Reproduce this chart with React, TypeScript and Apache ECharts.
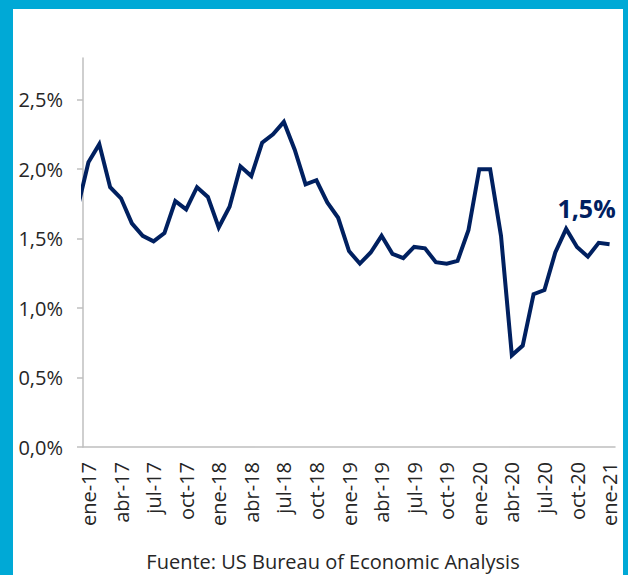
import React, { useEffect, useRef } from "react";
import * as echarts from "echarts";

// Months: first entry (dic-16) lies before the axis start and is clipped
const months = [
  "dic-16",
  "ene-17", "feb-17", "mar-17", "abr-17", "may-17", "jun-17", "jul-17", "ago-17", "sep-17", "oct-17", "nov-17", "dic-17",
  "ene-18", "feb-18", "mar-18", "abr-18", "may-18", "jun-18", "jul-18", "ago-18", "sep-18", "oct-18", "nov-18", "dic-18",
  "ene-19", "feb-19", "mar-19", "abr-19", "may-19", "jun-19", "jul-19", "ago-19", "sep-19", "oct-19", "nov-19", "dic-19",
  "ene-20", "feb-20", "mar-20", "abr-20", "may-20", "jun-20", "jul-20", "ago-20", "sep-20", "oct-20", "nov-20", "dic-20",
  "ene-21",
];

// Inflation (%)
const values = [
  1.72,
  2.05, 2.18, 1.87, 1.79, 1.61, 1.52, 1.48, 1.54, 1.77, 1.71, 1.87, 1.8,
  1.58, 1.73, 2.02, 1.95, 2.19, 2.25, 2.34, 2.14, 1.89, 1.92, 1.76, 1.65,
  1.41, 1.32, 1.4, 1.52, 1.39, 1.36, 1.44, 1.43, 1.33, 1.32, 1.34, 1.56,
  2.0, 2.0, 1.52, 0.66, 0.73, 1.1, 1.13, 1.4, 1.57, 1.44, 1.37, 1.47,
  1.46,
];

const yTicks = [0, 0.5, 1.0, 1.5, 2.0, 2.5];
const sourceText = "Fuente: US Bureau of Economic Analysis";

const FONT = "'Open Sans', 'Noto Sans', sans-serif";
const fmt = (v: number) => v.toFixed(1).replace(".", ",") + "%";

export default function App() {
  const ref = useRef<HTMLDivElement>(null);
  useEffect(() => {
    document.body.style.margin = "0";
    if (!ref.current) return;
    const chart = echarts.init(ref.current, null, { renderer: "svg" });
    const cats = months.slice(1);
    const seriesData = values.map((v, i) => [i - 1, v]);
    chart.setOption({
      animation: false,
      backgroundColor: "#ffffff",
      grid: {
        left: 83,
        right: 13,
        top: 58,
        bottom: 128,
        containLabel: false,
        outerBoundsMode: "none",
      },
      xAxis: [
        {
          type: "category",
          data: cats,
          boundaryGap: true,
          axisLine: { onZero: false, lineStyle: { color: "#bfbfbf", width: 1.5 } },
          axisTick: { interval: 2, length: 5, lineStyle: { color: "#bfbfbf", width: 1.5 } },
          axisLabel: {
            interval: 2,
            rotate: 90,
            margin: 15,
            color: "#262626",
            fontSize: 20,
            fontFamily: FONT,
          },
          splitLine: { show: false },
        },
        {
          type: "value",
          min: -0.5,
          max: cats.length - 0.5,
          show: false,
        },
      ],
      yAxis: {
        type: "value",
        min: 0,
        max: 2.8,
        interval: 0.5,
        axisLine: { show: true, onZero: false, lineStyle: { color: "#bfbfbf", width: 1.5 } },
        axisTick: {
          show: true,
          length: 6,
          customValues: yTicks,
          lineStyle: { color: "#bfbfbf", width: 1.5 },
        },
        axisLabel: {
          customValues: yTicks,
          formatter: (v: number) => fmt(v),
          margin: 20,
          color: "#262626",
          fontSize: 20,
          fontFamily: FONT,
        },
        splitLine: { show: false },
      },
      series: [
        {
          type: "line",
          xAxisIndex: 1,
          data: seriesData,
          symbol: "none",
          clip: true,
          lineStyle: { color: "#002060", width: 4, join: "miter" },
          endLabel: {
            show: true,
            formatter: (p: any) => fmt(p.value[1]),
            align: "center",
            verticalAlign: "bottom",
            offset: [-31, -24],
            color: "#002060",
            fontSize: 25,
            fontWeight: "bold",
            fontFamily: FONT,
          },
        },
      ],
      graphic: [
        { type: "rect", shape: { x: 0, y: 0, width: 13, height: 575 }, style: { fill: "#00A9D6" } },
        { type: "rect", shape: { x: 0, y: 0, width: 628, height: 9 }, style: { fill: "#00A9D6" } },
        { type: "rect", shape: { x: 623, y: 0, width: 5, height: 575 }, style: { fill: "#00A9D6" } },
        {
          type: "text",
          x: 333,
          y: 561,
          style: {
            text: sourceText,
            fill: "#262626",
            fontSize: 20,
            fontFamily: FONT,
            textAlign: "center",
            textVerticalAlign: "middle",
          },
        },
      ],
    });
    return () => chart.dispose();
  }, []);
  return <div ref={ref} style={{ width: 628, height: 575 }} />;
}
